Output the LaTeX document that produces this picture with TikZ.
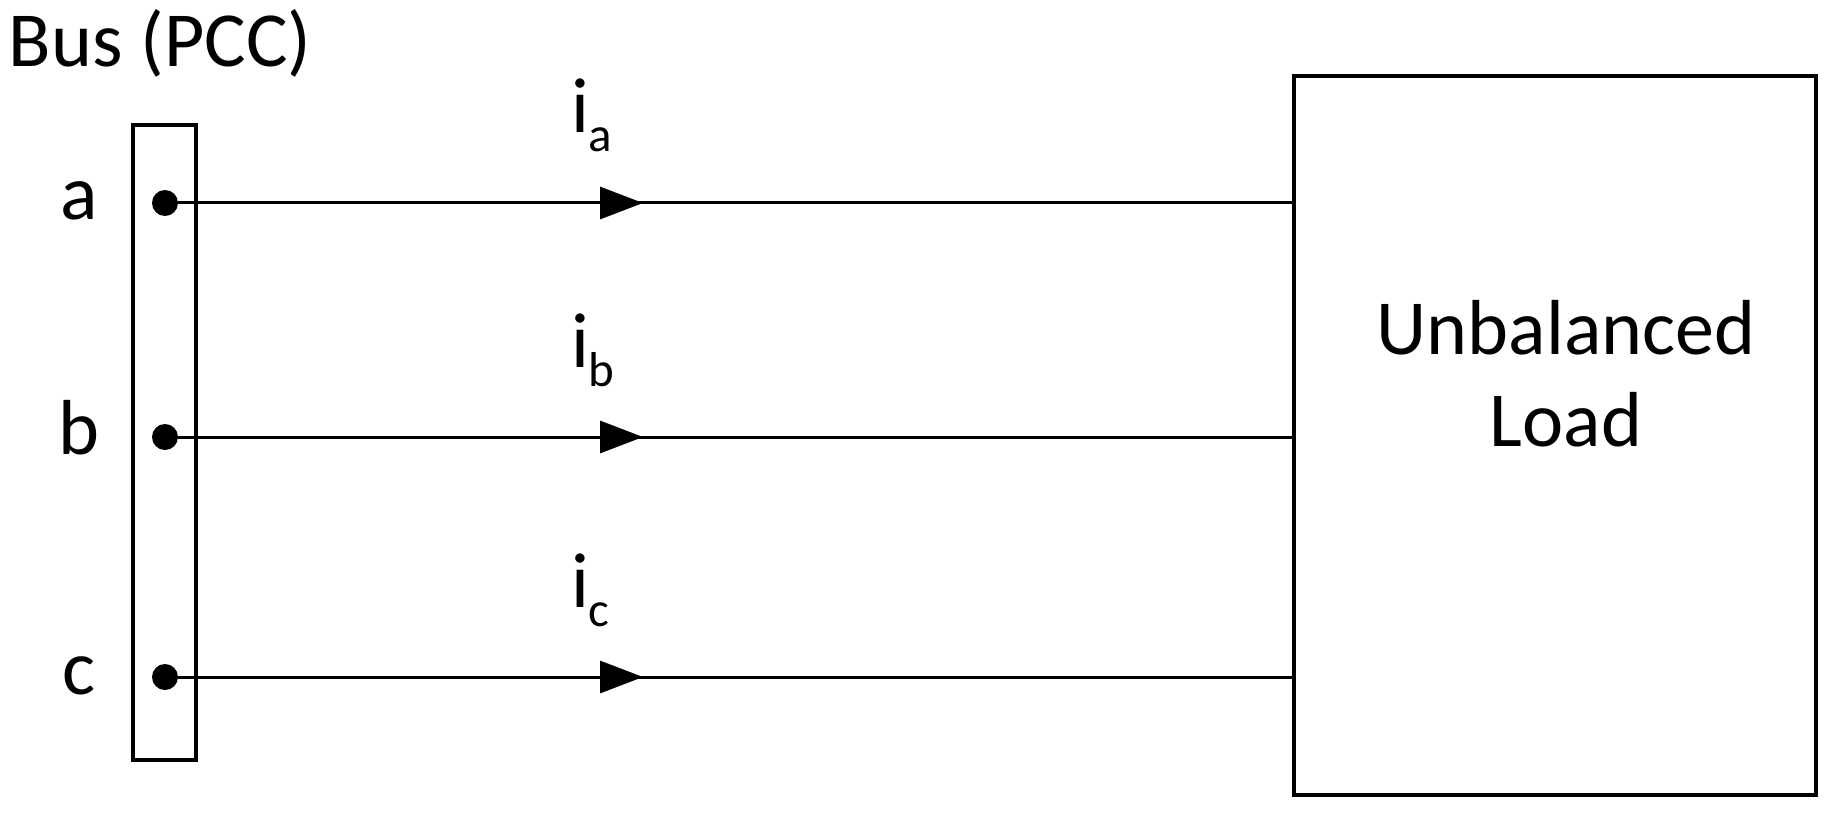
\documentclass[tikz,border=0pt]{standalone}
\usepackage{fontspec}
\setmainfont{Carlito}
\usetikzlibrary{arrows.meta,decorations.markings}
\begin{document}
\begin{tikzpicture}[x=0.5pt,y=-0.5pt,
  txt/.style={font=\fontsize{39}{46}\selectfont, inner sep=0pt, outer sep=0pt},
  boxed/.style={draw, line width=1.8pt, inner sep=0pt, outer sep=0pt},
  wire/.style={line width=1.5pt, postaction={decorate},
    decoration={markings, mark=at position 0.4167 with {\arrow{Triangle[length=21.5pt,width=16pt]}}}},
  busdot/.style={circle, fill, inner sep=0pt, outer sep=0pt, minimum size=13pt}]
\useasboundingbox (0,0) rectangle (1839,818);
% bus bar
\node[boxed, minimum width=31.5pt, minimum height=317.5pt] (bus) at (164.5,442.5) {};
\node[txt, anchor=base west] (buslabel) at (9,67) {Bus (PCC)};
% load
\node[boxed, minimum width=261pt, minimum height=359.5pt] (load) at (1555,435.5) {};
\node[txt, anchor=base] (loadl1) at (1566,354) {Unbalanced};
\node[txt, anchor=base] (loadl2) at (1566,446) {Load};
% dots
\node[busdot] (da) at (165,203) {};
\node[busdot] (db) at (165,437) {};
\node[busdot] (dc) at (165,677) {};
% phase labels
\node[txt, anchor=base] (la) at (79,220) {a};
\node[txt, anchor=base] (lb) at (79,454) {b};
\node[txt, anchor=base] (lc) at (79,694) {c};
% wires
\draw[wire] (da) -- (da -| load.west);
\draw[wire] (db) -- (db -| load.west);
\draw[wire] (dc) -- (dc -| load.west);
% current labels
\node[txt, anchor=base west] (ia) at (571,133) {i\raisebox{-9.5pt}{\fontsize{24.5}{24.5}\selectfont a}};
\node[txt, anchor=base west] (ib) at (571,367) {i\raisebox{-9.5pt}{\fontsize{24.5}{24.5}\selectfont b}};
\node[txt, anchor=base west] (ic) at (571,607) {i\raisebox{-9.5pt}{\fontsize{24.5}{24.5}\selectfont c}};
\end{tikzpicture}
\end{document}
